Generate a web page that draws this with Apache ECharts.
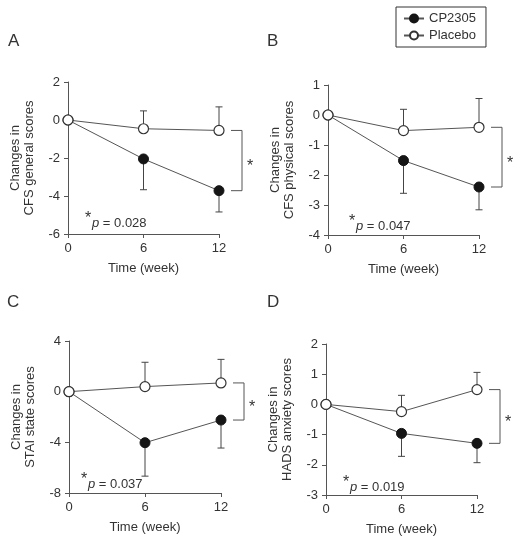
<!DOCTYPE html>
<html>
<head>
<meta charset="utf-8">
<script src="https://cdn.jsdelivr.net/npm/echarts@6/dist/echarts.min.js"></script>
<style>
  html, body { margin: 0; padding: 0; background: #fff; }
  #chart { width: 521px; height: 538px; }
</style>
</head>
<body>
<div id="chart"></div>
<script>
// time points (weeks)
const weeks = [0, 6, 12]
const panelNames = ['A', 'B', 'C', 'D']
const yTitles = ['CFS general scores', 'CFS physical scores', 'STAI state scores', 'HADS anxiety scores']
const yMin = [-6, -4, -8, -3]
const yMax = [2, 1, 4, 2]
const yInterval = [2, 1, 4, 1]
const pValues = ['0.028', '0.047', '0.037', '0.019']

// mean changes, one row per panel
const cpMean = [
  [0, -2.05, -3.72],
  [0, -1.52, -2.40],
  [0, -4.03, -2.24],
  [0, -0.96, -1.29]
]
const cpErr = [
  [0, 1.62, 1.12],
  [0, 1.09, 0.76],
  [0, 2.64, 2.21],
  [0, 0.76, 0.64]
]
const placeboMean = [
  [0, -0.46, -0.55],
  [0, -0.52, -0.41],
  [0, 0.40, 0.69],
  [0, -0.24, 0.49]
]
const placeboErr = [
  [0, 0.94, 1.24],
  [0, 0.71, 0.96],
  [0, 1.92, 1.86],
  [0, 0.54, 0.57]
]

const FONT = "'Liberation Sans', Arial, sans-serif"
const TEXT = '#333'
const AXIS = '#555'

// layout of the four panels
const grids = [
  { left: 68, top: 82, width: 151, height: 152 },
  { left: 328, top: 85, width: 151, height: 150 },
  { left: 69, top: 341, width: 152, height: 152 },
  { left: 326, top: 344, width: 151, height: 151 }
]
const labelPos = [[8, 33], [267, 33], [7, 294], [267, 294]]
const pPos = [[88, 223], [352, 226], [84, 484], [346, 487]]

function errorBar(dir) {
  return function (params, api) {
    const x = api.value(0)
    const m = api.value(1)
    const e = api.value(2)
    const p0 = api.coord([x, m])
    const p1 = api.coord([x, m + dir * e])
    const st = { stroke: '#444', lineWidth: 1 }
    return {
      type: 'group',
      children: [
        { type: 'line', shape: { x1: p0[0], y1: p0[1], x2: p1[0], y2: p1[1] }, style: st },
        { type: 'line', shape: { x1: p1[0] - 3.5, y1: p1[1], x2: p1[0] + 3.5, y2: p1[1] }, style: st }
      ]
    }
  }
}

function bracket(params, api) {
  const a = api.coord([api.value(0), api.value(1)])
  const b = api.coord([api.value(0), api.value(2)])
  const x0 = a[0] + 12
  const x1 = a[0] + 23
  return {
    type: 'group',
    children: [
      {
        type: 'polyline',
        shape: { points: [[x0, a[1]], [x1, a[1]], [x1, b[1]], [x0, b[1]]] },
        style: { stroke: '#555', lineWidth: 1, fill: null }
      },
      {
        type: 'text',
        style: {
          x: x1 + 8, y: (a[1] + b[1]) / 2 + 6, text: '*',
          fontSize: 16, fontFamily: FONT, fill: TEXT, align: 'center', verticalAlign: 'middle'
        }
      }
    ]
  }
}

const xAxis = []
const yAxis = []
const series = []
const graphic = []

grids.forEach((g, i) => {
  xAxis.push({
    gridIndex: i,
    type: 'value',
    min: 0, max: 12, interval: 6,
    name: 'Time (week)',
    nameLocation: 'middle',
    nameGap: 28,
    nameTextStyle: { fontSize: 13, color: TEXT, fontFamily: FONT },
    axisLine: { onZero: false, lineStyle: { color: AXIS } },
    axisTick: { length: 4, lineStyle: { color: AXIS } },
    axisLabel: { fontSize: 13, color: TEXT, fontFamily: FONT, margin: 8 },
    splitLine: { show: false }
  })
  yAxis.push({
    gridIndex: i,
    type: 'value',
    min: yMin[i], max: yMax[i], interval: yInterval[i],
    name: 'Changes in\n' + yTitles[i],
    nameLocation: 'middle',
    nameRotate: 90,
    nameGap: 32,
    nameTextStyle: { fontSize: 13, color: TEXT, fontFamily: FONT, lineHeight: 14 },
    axisLine: { show: true, onZero: false, lineStyle: { color: AXIS } },
    axisTick: { show: true, length: 4, lineStyle: { color: AXIS } },
    axisLabel: { fontSize: 13, color: TEXT, fontFamily: FONT, margin: 8 },
    splitLine: { show: false }
  })

  const placeboBars = weeks.map((w, k) => [w, placeboMean[i][k], placeboErr[i][k]]).filter(d => d[2] > 0)
  const cpBars = weeks.map((w, k) => [w, cpMean[i][k], cpErr[i][k]]).filter(d => d[2] > 0)

  series.push({
    type: 'custom', xAxisIndex: i, yAxisIndex: i, z: 1,
    renderItem: errorBar(1), data: placeboBars, silent: true
  })
  series.push({
    type: 'custom', xAxisIndex: i, yAxisIndex: i, z: 1,
    renderItem: errorBar(-1), data: cpBars, silent: true
  })
  series.push({
    name: 'CP2305',
    type: 'line', xAxisIndex: i, yAxisIndex: i,
    data: weeks.map((w, k) => [w, cpMean[i][k]]),
    symbol: 'circle', symbolSize: 10,
    itemStyle: { color: '#151515', borderColor: '#151515', borderWidth: 1 },
    lineStyle: { color: '#555', width: 1 }
  })
  series.push({
    name: 'Placebo',
    type: 'line', xAxisIndex: i, yAxisIndex: i,
    data: weeks.map((w, k) => [w, placeboMean[i][k]]),
    symbol: 'circle', symbolSize: 10,
    itemStyle: { color: '#fff', borderColor: '#333', borderWidth: 1.2 },
    lineStyle: { color: '#555', width: 1 }
  })
  series.push({
    type: 'custom', xAxisIndex: i, yAxisIndex: i, z: 1,
    renderItem: bracket,
    data: [[weeks[2], placeboMean[i][2], cpMean[i][2]]],
    silent: true
  })

  graphic.push({
    type: 'text', left: labelPos[i][0], top: labelPos[i][1],
    style: { text: panelNames[i], fontSize: 17, fontFamily: FONT, fill: TEXT }
  })
  graphic.push({
    type: 'text', x: pPos[i][0], y: pPos[i][1] - 4,
    style: { text: '*', fontSize: 16, fontFamily: FONT, fill: TEXT, align: 'center', verticalAlign: 'middle' }
  })
  graphic.push({
    type: 'text', x: pPos[i][0] + 4, y: pPos[i][1],
    style: {
      text: '{i|p} = ' + pValues[i],
      fontSize: 13, fontFamily: FONT, fill: TEXT, verticalAlign: 'middle',
      rich: { i: { fontStyle: 'italic', fontSize: 13, fontFamily: FONT, fill: TEXT } }
    }
  })
})

const chart = echarts.init(document.getElementById('chart'))
chart.setOption({
  animation: false,
  backgroundColor: '#fff',
  grid: grids,
  xAxis: xAxis,
  yAxis: yAxis,
  legend: {
    data: ['CP2305', 'Placebo'],
    orient: 'vertical',
    left: 396, top: 7,
    borderColor: '#333', borderWidth: 1,
    padding: [5, 10, 5, 7],
    itemWidth: 20, itemHeight: 10, itemGap: 4,
    textStyle: { fontSize: 13, color: TEXT, fontFamily: FONT }
  },
  graphic: graphic,
  series: series
})
</script>
</body>
</html>
